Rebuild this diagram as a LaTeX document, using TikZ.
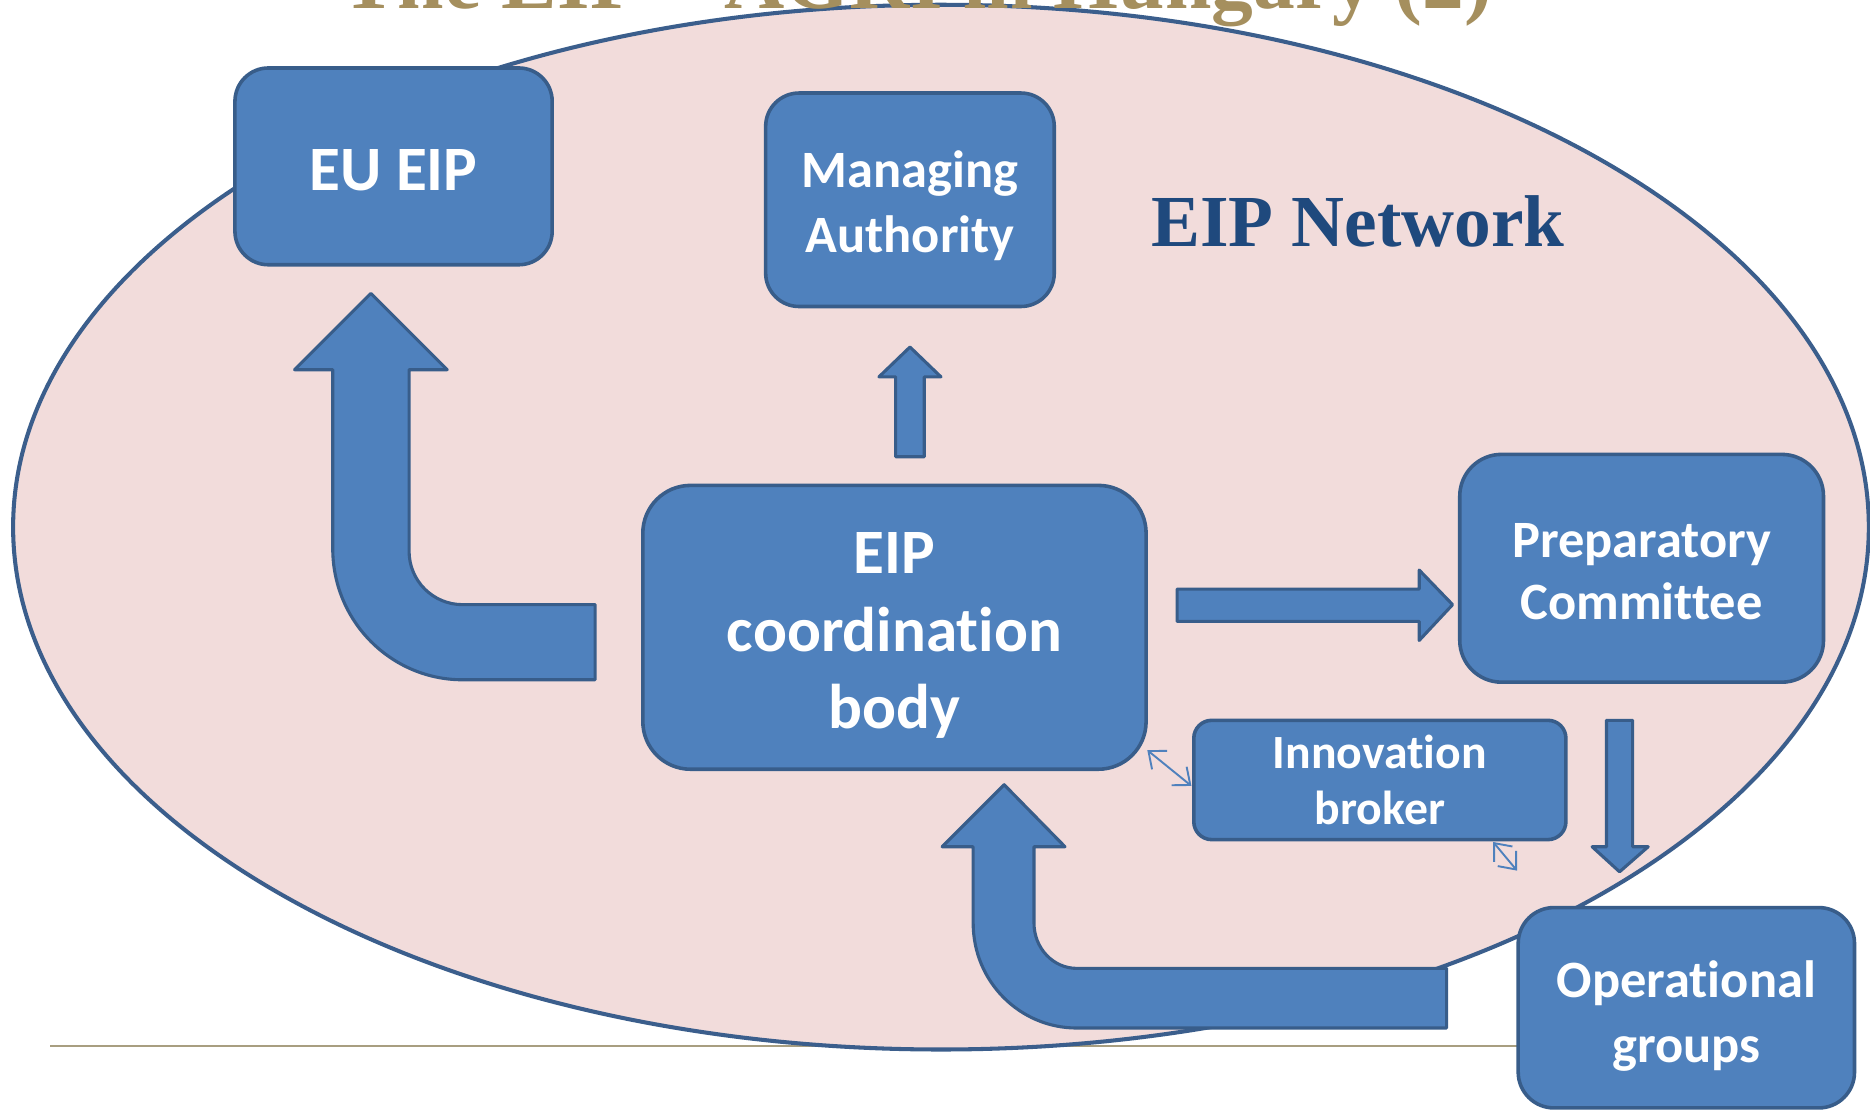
\documentclass[tikz,border=0pt]{standalone}
\usepackage{fontspec}
\setmainfont{Liberation Serif}
\newfontfamily\boxfont[Ligatures=NoCommon]{Carlito}
\usetikzlibrary{arrows.meta}
\definecolor{fillblue}{HTML}{4F81BD}
\definecolor{edgeblue}{HTML}{385D8A}
\definecolor{pinkfill}{HTML}{F2DCDB}
\definecolor{ellipseedge}{HTML}{3B5E8C}
\definecolor{titlegold}{HTML}{A58F5E}
\definecolor{netblue}{HTML}{1F497D}
\definecolor{rulecol}{HTML}{A89E80}
\begin{document}
\begin{tikzpicture}[x=1pt,y=-1pt,
  box/.style={draw=edgeblue, fill=fillblue, line width=3pt,
    inner sep=0pt, outer sep=0pt, anchor=north west},
  boxtext/.style={text=white, align=center, inner sep=0pt},
  bigarrow/.style={draw=edgeblue, fill=fillblue, line width=2.6pt, line join=round},
  linkarrow/.style={draw=fillblue, line width=1.6pt,
    {Straight Barb[length=12pt,width=20pt]}-{Straight Barb[length=12pt,width=20pt]}}
]
\useasboundingbox (0,0) rectangle (1568,931);
\fill[white] (0,0) rectangle (1568,931);
% rule line
\draw[rulecol, line width=1.3pt] (42,877) -- (1275,877);
% network ellipse
\draw[fill=pinkfill, draw=ellipseedge, line width=3.4pt] (789,442) ellipse [x radius=778, y radius=438];
% title (cut off at top, as in the reference)
\node[anchor=base, inner sep=0pt, text=titlegold, font=\fontsize{70}{80}\selectfont\bfseries] (title) at (769,7.5) {The EIP – AGRI in Hungary (2)};
% EIP Network label
\node[anchor=base west, inner sep=0pt, text=netblue, font=\fontsize{61.5}{70}\selectfont\bfseries] (network) at (965,207) {EIP Network};

% big bent arrow to EU EIP
\draw[bigarrow] (499,507) -- (388,507) .. controls (363,507) and (343,487) .. (343,462)
  -- (343,310) -- (375,310) -- (311,246) -- (247,310) -- (279,310) -- (279,460)
  .. controls (279,521) and (328,570) .. (388,570) -- (499,570) -- cycle;
% big bent arrow from operational groups
\draw[bigarrow] (1213,812) -- (903,812) .. controls (883,812) and (867,795) .. (867,774)
  -- (867,710) -- (893,710) -- (842,658) -- (790,710) -- (816,710) -- (816,774)
  .. controls (816,823) and (855,862) .. (903,862) -- (1213,862) -- cycle;
% small up arrow to Managing Authority
\draw[bigarrow] (751,383) -- (751,316) -- (737,316) -- (763,291) -- (789,316) -- (775,316) -- (775,383) -- cycle;
% right arrow to Preparatory Committee
\draw[bigarrow] (987,494) -- (1190,494) -- (1190,478) -- (1218,507) -- (1190,537) -- (1190,521) -- (987,521) -- cycle;
% down arrow to Operational groups
\draw[bigarrow] (1347,604) -- (1369,604) -- (1369,710) -- (1382,710) -- (1358,731) -- (1335,710) -- (1347,710) -- cycle;

% boxes
\node[box, minimum width=266, minimum height=165, rounded corners=28pt] (eueip) at (197,57) {};
\node[boxtext, font=\boxfont\bfseries\fontsize{53}{64}\selectfont] (eueip-text) at ([yshift=-3pt]eueip.center) {EU EIP};

\node[box, minimum width=242, minimum height=179, rounded corners=28pt] (managing) at (642,78) {};
\node[boxtext, font=\boxfont\bfseries\fontsize{44}{54}\selectfont] (managing-text) at ([yshift=-5pt]managing.center) {Managing\\Authority};

\node[box, minimum width=422, minimum height=238, rounded corners=40pt] (coord) at (539,407) {};
\node[boxtext, font=\boxfont\bfseries\fontsize{53}{65}\selectfont] (coord-text) at ([yshift=-7pt]coord.center) {EIP\\coordination\\body};

\node[box, minimum width=305, minimum height=191, rounded corners=35pt] (prep) at (1224,381) {};
\node[boxtext, font=\boxfont\bfseries\fontsize{44}{52}\selectfont] (prep-text) at ([yshift=-3pt]prep.center) {Preparatory\\Committee};

\node[box, minimum width=312, minimum height=100, rounded corners=15pt] (innov) at (1001,604) {};
\node[boxtext, font=\boxfont\bfseries\fontsize{40}{47}\selectfont] (innov-text) at (innov.center) {Innovation\\broker};

\node[box, minimum width=282, minimum height=168, rounded corners=30pt] (oper) at (1273,761) {};
\node[boxtext, font=\boxfont\bfseries\fontsize{44}{55}\selectfont] (oper-text) at ([yshift=-7pt]oper.center) {Operational\\groups};

% thin two-way links
\coordinate (l1a) at (962,629);
\coordinate (l1b) at (999,659);
\coordinate (l2a) at (1252,706);
\coordinate (l2b) at (1272,730);
\draw[linkarrow] (l1a) -- (l1b);
\draw[linkarrow] (l2a) -- (l2b);
\end{tikzpicture}
\end{document}
